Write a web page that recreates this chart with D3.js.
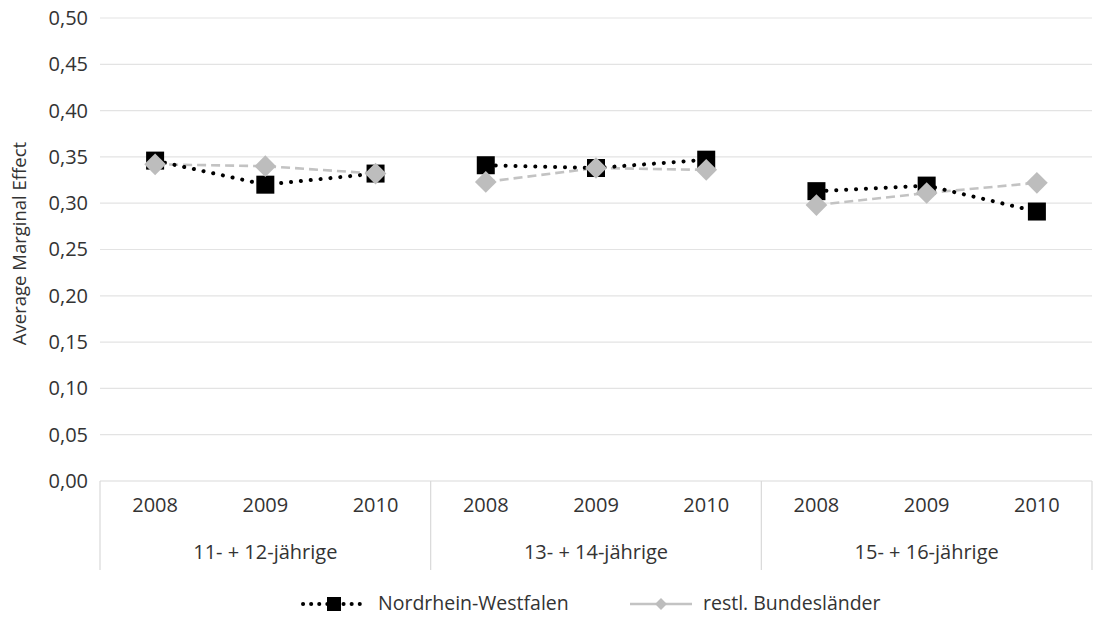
<!DOCTYPE html>
<html><head><meta charset="utf-8">
<script src="https://cdn.jsdelivr.net/npm/d3@7"></script>
<style>body{margin:0;background:#fff;} text{font-family:"Open Sans","Noto Sans",sans-serif;fill:#333;}</style>
</head><body><svg id="c" width="1100" height="617"></svg>
<script>
const groups = ["11- + 12-jährige", "13- + 14-jährige", "15- + 16-jährige"];
const years = ["2008", "2009", "2010"];
const nrw = [[0.346, 0.320, 0.332], [0.341, 0.338, 0.347], [0.313, 0.319, 0.291]];
const rest = [[0.342, 0.340, 0.332], [0.323, 0.338, 0.336], [0.298, 0.311, 0.322]];
const yTicks = [0, 0.05, 0.10, 0.15, 0.20, 0.25, 0.30, 0.35, 0.40, 0.45, 0.50];
const seriesNames = ["Nordrhein-Westfalen", "restl. Bundesländer"];

const svg = d3.select("#c");
const L = 100, R = 1092, T = 18, B = 481;
const y = d3.scaleLinear().domain([0, 0.5]).range([B, T]);
const cats = [];
groups.forEach((g, gi) => years.forEach((yr, yi) => cats.push(gi + "|" + yi)));
const x = d3.scaleBand().domain(cats).range([L, R]);
const fmt = d3.format(".2f");

// gridlines
svg.append("g").selectAll("line").data(yTicks.filter(d => d > 0)).join("line")
  .attr("x1", L).attr("x2", R).attr("y1", d => y(d)).attr("y2", d => y(d))
  .attr("stroke", "#e3e3e3").attr("stroke-width", 1.2);

// y axis labels
const ya = svg.append("g").attr("transform", `translate(${L},0)`)
  .call(d3.axisLeft(y).tickValues(yTicks).tickFormat(d => fmt(d).replace(".", ",")).tickSize(0).tickPadding(12));
ya.select(".domain").remove();
ya.selectAll("text").style("font-size", "20px").attr("fill", "#333");

svg.append("text").attr("transform", `translate(26,${(137 + 350) / 2}) rotate(-90)`)
  .attr("text-anchor", "middle").style("font-size", "18.5px").text("Average Marginal Effect");

// x axis box
const bottom = 570;
svg.append("line").attr("x1", L).attr("x2", R).attr("y1", B).attr("y2", B).attr("stroke", "#d9d9d9").attr("stroke-width", 1.2);
const seps = [L].concat(groups.map((g, gi) => x(gi + "|2") + x.bandwidth()));
svg.append("g").selectAll("line").data(seps).join("line")
  .attr("x1", d => d).attr("x2", d => d).attr("y1", B).attr("y2", bottom)
  .attr("stroke", "#d9d9d9").attr("stroke-width", 1.2);

// year labels
svg.append("g").selectAll("text").data(cats).join("text")
  .attr("x", d => x(d) + x.bandwidth() / 2).attr("y", 512).attr("text-anchor", "middle")
  .style("font-size", "20px").text(d => years[+d.split("|")[1]]);
// group labels
svg.append("g").selectAll("text").data(groups).join("text")
  .attr("x", (d, gi) => (x(gi + "|0") + x(gi + "|2") + x.bandwidth()) / 2).attr("y", 559).attr("text-anchor", "middle")
  .style("font-size", "20px").text(d => d);

const cx = (gi, yi) => x(gi + "|" + yi) + x.bandwidth() / 2;
const line = d3.line().x(d => d[0]).y(d => d[1]);

// rest series
rest.forEach((vals, gi) => {
  const pts = vals.map((v, yi) => [cx(gi, yi), y(v)]);
  svg.append("path").attr("d", line(pts)).attr("fill", "none").attr("stroke", "#c3c3c3")
    .attr("stroke-width", 2.6).attr("stroke-dasharray", "9,5");
});
// nrw series
nrw.forEach((vals, gi) => {
  const pts = vals.map((v, yi) => [cx(gi, yi), y(v)]);
  svg.append("path").attr("d", line(pts)).attr("fill", "none").attr("stroke", "#000")
    .attr("stroke-width", 4).attr("stroke-linecap", "round").attr("stroke-dasharray", "0.1,9.8");
});
// markers
nrw.forEach((vals, gi) => vals.forEach((v, yi) => {
  svg.append("rect").attr("x", cx(gi, yi) - 9).attr("y", y(v) - 9).attr("width", 18).attr("height", 18).attr("fill", "#000");
}));
const diamond = d3.symbol().type(d3.symbolDiamond2).size(300);
rest.forEach((vals, gi) => vals.forEach((v, yi) => {
  svg.append("path").attr("d", diamond()).attr("transform", `translate(${cx(gi, yi)},${y(v)})`).attr("fill", "#bdbdbd");
}));

// legend
const ly = 604;
const lg = svg.append("g");
lg.append("line").attr("x1", 303).attr("x2", 365).attr("y1", ly).attr("y2", ly).attr("stroke", "#000")
  .attr("stroke-width", 4).attr("stroke-linecap", "round").attr("stroke-dasharray", "0.1,8");
lg.append("rect").attr("x", 334 - 7).attr("y", ly - 7).attr("width", 14).attr("height", 14).attr("fill", "#000");
lg.append("text").attr("x", 378).attr("y", ly + 6).style("font-size", "19.5px").text(seriesNames[0]);
lg.append("line").attr("x1", 630).attr("x2", 692).attr("y1", ly).attr("y2", ly).attr("stroke", "#c3c3c3").attr("stroke-width", 2.6);
lg.append("path").attr("d", d3.symbol().type(d3.symbolDiamond2).size(90)()).attr("transform", `translate(661,${ly})`).attr("fill", "#bdbdbd");
lg.append("text").attr("x", 703).attr("y", ly + 6).style("font-size", "19.5px").text(seriesNames[1]);
</script></body></html>
